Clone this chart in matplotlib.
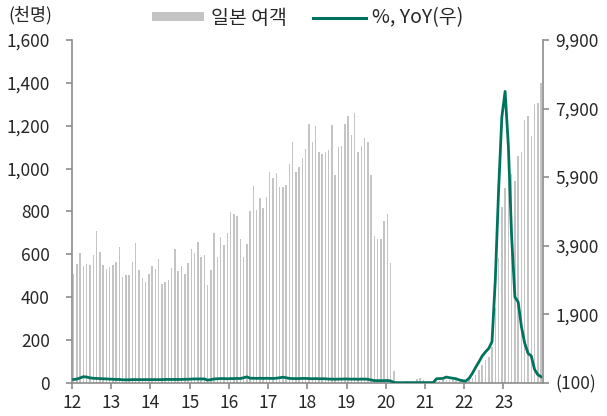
import matplotlib
matplotlib.use("Agg")
import matplotlib.pyplot as plt
import numpy as np
from matplotlib.lines import Line2D
from matplotlib.patches import Patch
from matplotlib.ticker import FuncFormatter

plt.rcParams['font.family'] = ['Noto Sans CJK KR', 'DejaVu Sans']

# 일본 여객 (천명), monthly Jan 2012 - Dec 2023
pax_2012 = [507, 554, 604, 545, 553, 549, 598, 710, 609, 548, 532, 540]
pax_2013 = [551, 563, 635, 493, 503, 503, 563, 652, 525, 490, 468, 507]
pax_2014 = [545, 532, 577, 459, 470, 479, 535, 622, 521, 545, 507, 559]
pax_2015 = [626, 605, 657, 585, 595, 456, 526, 697, 588, 680, 644, 697]
pax_2016 = [797, 788, 777, 669, 587, 649, 802, 918, 806, 861, 817, 865]
pax_2017 = [984, 954, 977, 914, 912, 921, 1019, 1124, 982, 1009, 1049, 1093]
pax_2018 = [1208, 1122, 1200, 1079, 1066, 1075, 1086, 1203, 970, 1102, 1105, 1208]
pax_2019 = [1245, 1155, 1258, 1079, 1105, 1141, 1122, 970, 685, 672, 669, 755]
pax_2020 = [786, 557, 54, 5, 4, 5, 6, 8, 10, 18, 20, 14]
pax_2021 = [8, 7, 9, 10, 10, 11, 12, 12, 12, 14, 16, 15]
pax_2022 = [11, 13, 23, 36, 59, 83, 106, 121, 168, 350, 580, 820]
pax_2023 = [908, 931, 974, 943, 1058, 1078, 1226, 1246, 1152, 1301, 1307, 1401]

# %, YoY (right axis)
yoy_2012 = [-5, 5, 40, 75, 65, 40, 30, 25, 20, 15, 10, 5]
yoy_2013 = [0, -5, -5, -15, -15, -15, -10, -10, -10, -10, -10, -10]
yoy_2014 = [-10, -10, -10, -10, -5, -5, -5, -5, -5, -5, 0, 0]
yoy_2015 = [5, 10, 10, 10, 10, -25, -10, 10, 15, 20, 20, 15]
yoy_2016 = [20, 20, 25, 20, 45, 70, 30, 30, 25, 30, 25, 30]
yoy_2017 = [25, 25, 30, 45, 60, 45, 25, 20, 20, 20, 25, 25]
yoy_2018 = [20, 15, 20, 15, 15, 15, 5, 5, 0, 5, 5, 10]
yoy_2019 = [5, 3, 5, 0, 5, 5, 0, -20, -40, -40, -40, -40]
yoy_2020 = [-35, -50, -95, -99, -99, -99, -99, -99, -99, -99, -98, -98]
yoy_2021 = [-99, -99, -98, 15, 20, 25, 65, 45, 30, 15, -20, -45]
yoy_2022 = [-50, 30, 175, 350, 510, 680, 800, 900, 1100, 2900, 5500, 7650]
yoy_2023 = [8400, 6800, 4150, 2400, 2250, 1530, 1050, 760, 680, 290, 135, 75]

year_labels = ['12', '13', '14', '15', '16', '17', '18', '19', '20', '21', '22', '23']

pax = (pax_2012 + pax_2013 + pax_2014 + pax_2015 + pax_2016 + pax_2017
       + pax_2018 + pax_2019 + pax_2020 + pax_2021 + pax_2022 + pax_2023)
yoy = (yoy_2012 + yoy_2013 + yoy_2014 + yoy_2015 + yoy_2016 + yoy_2017
       + yoy_2018 + yoy_2019 + yoy_2020 + yoy_2021 + yoy_2022 + yoy_2023)
x = np.arange(len(pax))

bar_color = '#c4c4c4'
line_color = '#00735f'
axis_color = '#8c8c8c'
text_color = '#262626'

fig = plt.figure(figsize=(6.07, 4.16), dpi=100)
ax = fig.add_axes([72 / 607, 1 - 382.7 / 416, (542.7 - 72) / 607, (382.7 - 40) / 416])
ax.bar(x, pax, width=0.45, color=bar_color, linewidth=0)
ax.set_xlim(-0.5, len(pax) - 0.5)
ax.set_ylim(0, 1600)
ax.set_yticks(np.arange(0, 1601, 200))
ax.yaxis.set_major_formatter(FuncFormatter(lambda v, p: f"{int(v):,}"))
ax.set_xticks([12 * i - 0.5 for i in range(len(year_labels))])
ax.set_xticklabels(year_labels)

ax2 = ax.twinx()
ax2.plot(x, yoy, color=line_color, lw=2.0, solid_joinstyle='round')
ax2.set_ylim(-100, 9900)
ax2.set_yticks(np.arange(-100, 9901, 2000))
ax2.yaxis.set_major_formatter(
    FuncFormatter(lambda v, p: f"({abs(int(v)):,})" if v < 0 else f"{int(v):,}"))

for a in (ax, ax2):
    a.spines['top'].set_visible(False)
    for s in ('left', 'right', 'bottom'):
        a.spines[s].set_color(axis_color)
        a.spines[s].set_linewidth(1.2)
    a.tick_params(colors=axis_color, labelcolor=text_color, labelsize=12.5,
                  length=4, width=1.2)
ax.tick_params(axis='y', pad=12)
ax.tick_params(axis='x', pad=4)
ax2.tick_params(axis='y', pad=5)
ax2.spines['left'].set_visible(False)
ax2.spines['bottom'].set_visible(False)
ax.spines['right'].set_visible(False)

fig.text(8 / 607, 1 - 15 / 416, '(천명)', fontsize=12.5, color=text_color,
         ha='left', va='center')

handles = [Patch(facecolor=bar_color, edgecolor='none', label='일본 여객'),
           Line2D([0], [0], color=line_color, lw=2.2, label='%, YoY(우)')]
fig.legend(handles=handles, loc='center', bbox_to_anchor=(0.507, 1 - 18 / 416),
           ncol=2, frameon=False, fontsize=14, handlelength=2.7,
           handleheight=0.4, columnspacing=1.35, handletextpad=0.35,
           labelcolor=text_color)

fig.savefig('out.png', dpi=100)
